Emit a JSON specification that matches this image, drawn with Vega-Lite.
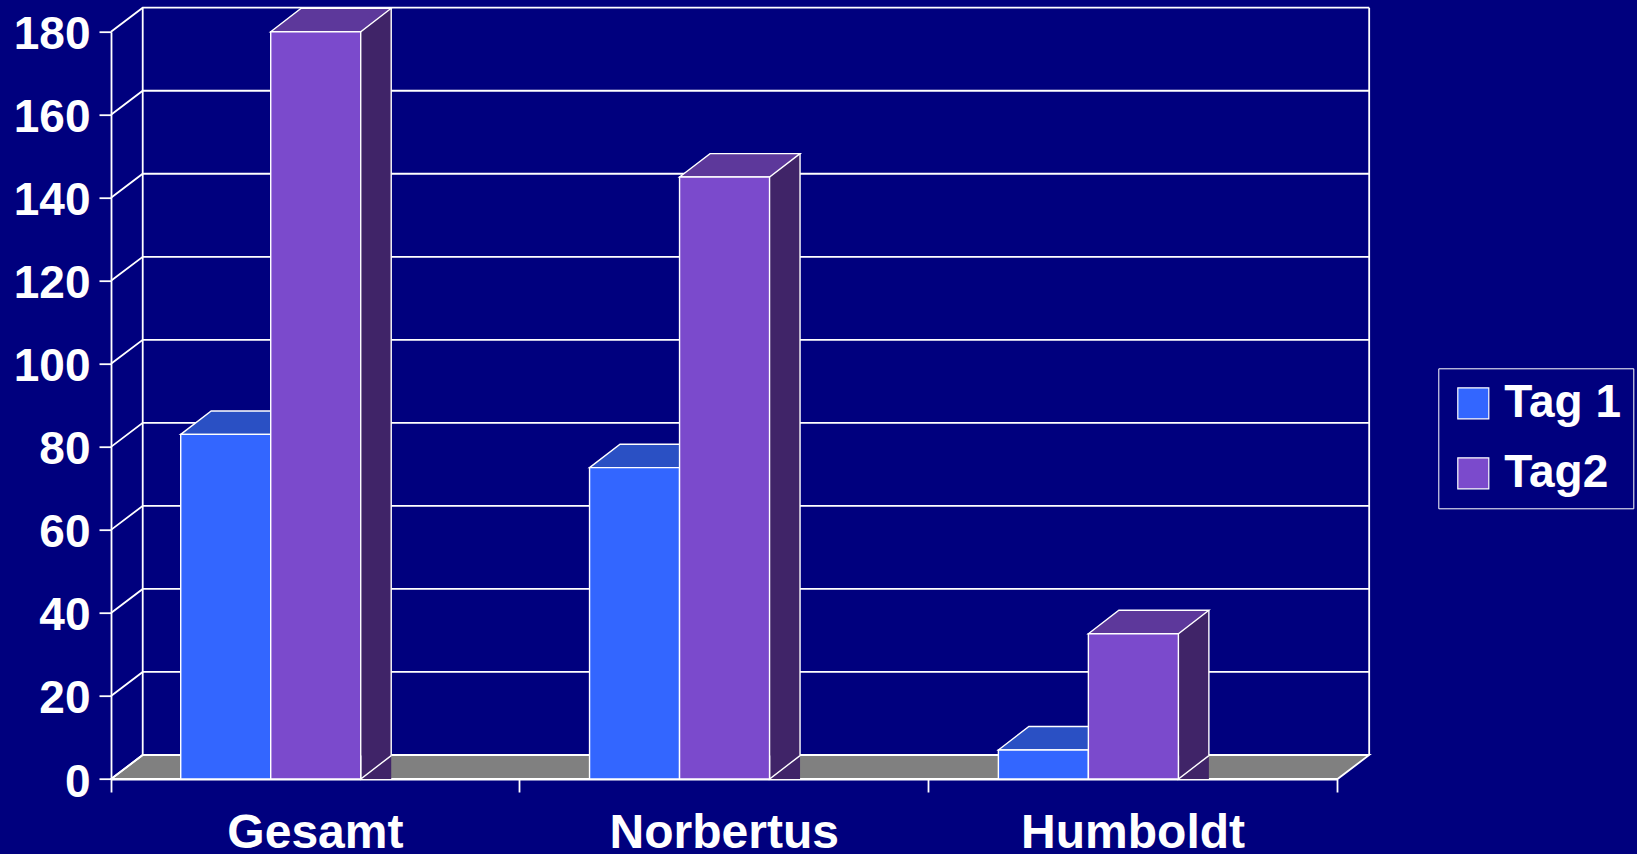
{
  "$schema": "https://vega.github.io/schema/vega-lite/v6.json",
  "width": 1226.5,
  "height": 747.3,
  "autosize": {"type": "none"},
  "padding": {"left": 111, "top": 31.7, "right": 299.5, "bottom": 75},
  "background": "#00007e",
  "config": {
    "view": {"stroke": null},
    "axisY": {"domainColor": "#ffffff", "domainWidth": 1.8, "tickColor": "#ffffff", "tickWidth": 1.8, "tickSize": 12, "labelColor": "#ffffff", "labelFont": "Liberation Sans", "labelFontWeight": "bold", "labelFontSize": 46, "labelPadding": 9, "labelOffset": 3, "grid": false},
    "axisX": {"domainColor": "#ffffff", "domainWidth": 1.8, "tickColor": "#ffffff", "tickWidth": 1.8, "tickSize": 13, "labelColor": "#ffffff", "labelFont": "Liberation Sans", "labelFontWeight": "bold", "labelFontSize": 48, "labelPadding": 17, "labelAngle": 0, "labelLimit": 0, "grid": false}
  },
  "datasets": {
    "bars": [
      {"cat": "Gesamt", "series": "Tag 1", "value": 83},
      {"cat": "Gesamt", "series": "Tag2", "value": 180},
      {"cat": "Norbertus", "series": "Tag 1", "value": 75},
      {"cat": "Norbertus", "series": "Tag2", "value": 145},
      {"cat": "Humboldt", "series": "Tag 1", "value": 7},
      {"cat": "Humboldt", "series": "Tag2", "value": 35}
    ],
    "ticks": [{"v": 0}, {"v": 20}, {"v": 40}, {"v": 60}, {"v": 80}, {"v": 100}, {"v": 120}, {"v": 140}, {"v": 160}, {"v": 180}],
    "one": [{"k": "frame"}]
  },
  "layer": [
    {
      "data": {"name": "one"},
      "mark": {"type": "point", "shape": "M -204.4 0 L 1022.1 0 L 1053.8 -24 L -172.7 -24 Z", "size": 4, "filled": true, "fill": "#808080", "stroke": "#ffffff", "strokeWidth": 1.8, "opacity": 1},
      "encoding": {
        "x": {"datum": "Gesamt", "type": "nominal", "title": null},
        "y": {"datum": 0, "type": "quantitative", "title": null}
      }
    },
    {
      "data": {"name": "ticks"},
      "mark": {"type": "point", "shape": "M -204.4 0 L -172.7 -24 L 1053.8 -24", "size": 4, "filled": false, "stroke": "#ffffff", "strokeWidth": 1.8, "opacity": 1},
      "encoding": {
        "x": {"datum": "Gesamt", "type": "nominal", "title": null},
        "y": {"field": "v", "type": "quantitative", "title": null}
      }
    },
    {
      "data": {"name": "one"},
      "mark": {"type": "rule", "color": "#ffffff", "strokeWidth": 1.8, "xOffset": -172.7, "yOffset": -24, "y2Offset": -24},
      "encoding": {
        "x": {"datum": "Gesamt", "type": "nominal", "title": null},
        "y": {"datum": 0, "type": "quantitative", "title": null},
        "y2": {"datum": 180}
      }
    },
    {
      "data": {"name": "one"},
      "mark": {"type": "rule", "color": "#ffffff", "strokeWidth": 1.8, "xOffset": 236.1, "yOffset": -24, "y2Offset": -24},
      "encoding": {
        "x": {"datum": "Humboldt", "type": "nominal", "title": null},
        "y": {"datum": 0, "type": "quantitative", "title": null},
        "y2": {"datum": 180}
      }
    },
    {
      "data": {"name": "bars"},
      "transform": [{"filter": "datum.series === 'Tag 1'"}],
      "mark": {"type": "point", "shape": "M -45 0 L 45 0 L 75.5 -23.4 L -14.5 -23.4 Z", "size": 4, "filled": true, "fill": "#2a50c4", "stroke": "#ffffff", "strokeWidth": 1.4, "opacity": 1, "xOffset": -89.7},
      "encoding": {
        "x": {"field": "cat", "type": "nominal", "title": null},
        "y": {"field": "value", "type": "quantitative", "title": null}
      }
    },
    {
      "data": {"name": "bars"},
      "transform": [{"filter": "datum.series === 'Tag 1'"}],
      "mark": {"type": "bar", "width": 90, "xOffset": -89.7, "stroke": "#ffffff", "strokeWidth": 1.4, "opacity": 1},
      "encoding": {
        "x": {"field": "cat", "type": "nominal", "title": null, "sort": null, "scale": {"domain": ["Gesamt", "Norbertus", "Humboldt"], "paddingInner": 0, "paddingOuter": 0}, "axis": {"bandPosition": 1, "tickExtra": true}},
        "y": {"field": "value", "type": "quantitative", "stack": null, "title": null, "scale": {"domain": [0, 180], "nice": false}, "axis": {"values": [0, 20, 40, 60, 80, 100, 120, 140, 160, 180]}},
        "color": {"field": "series", "type": "nominal", "scale": {"domain": ["Tag 1", "Tag2"], "range": ["#3366ff", "#7b4acc"]}, "legend": {"title": null, "orient": "none", "legendX": 1327.3, "legendY": 336.6, "symbolType": "square", "symbolSize": 961, "symbolStrokeColor": "#ffffff", "symbolStrokeWidth": 1.2, "symbolOpacity": 1, "labelFont": "Liberation Sans", "labelFontSize": 46, "labelFontWeight": "bold", "labelColor": "#ffffff", "labelOffset": 8, "rowPadding": 24, "padding": 12, "strokeColor": "#ffffff"}}
      }
    },
    {
      "data": {"name": "bars"},
      "transform": [{"filter": "datum.series === 'Tag2'"}],
      "mark": {"type": "bar", "width": 90, "xOffset": 30.8, "yOffset": -23.4, "y2Offset": -23.4, "color": "#402468", "strokeWidth": 0, "opacity": 1},
      "encoding": {
        "x": {"field": "cat", "type": "nominal", "title": null},
        "y": {"field": "value", "type": "quantitative", "stack": null, "title": null}
      }
    },
    {
      "data": {"name": "bars"},
      "transform": [{"filter": "datum.series === 'Tag2'"}],
      "mark": {"type": "point", "shape": "M 45 -23.4 L 45 0 L 75.5 -23.4", "size": 4, "filled": true, "fill": "#402468", "stroke": "#ffffff", "strokeWidth": 1.4, "opacity": 1, "xOffset": 0.3},
      "encoding": {
        "x": {"field": "cat", "type": "nominal", "title": null},
        "y": {"datum": 0, "type": "quantitative", "title": null}
      }
    },
    {
      "data": {"name": "bars"},
      "transform": [{"filter": "datum.series === 'Tag2'"}],
      "mark": {"type": "rule", "color": "#ffffff", "strokeWidth": 1.4, "xOffset": 75.8, "yOffset": -23.4, "y2Offset": -23.4},
      "encoding": {
        "x": {"field": "cat", "type": "nominal", "title": null},
        "y": {"field": "value", "type": "quantitative", "title": null},
        "y2": {"datum": 0}
      }
    },
    {
      "data": {"name": "bars"},
      "transform": [{"filter": "datum.series === 'Tag2'"}],
      "mark": {"type": "point", "shape": "M -45 0 L 45 0 L 75.5 -23.4 L -14.5 -23.4 Z", "size": 4, "filled": true, "fill": "#5d389b", "stroke": "#ffffff", "strokeWidth": 1.4, "opacity": 1, "xOffset": 0.3},
      "encoding": {
        "x": {"field": "cat", "type": "nominal", "title": null},
        "y": {"field": "value", "type": "quantitative", "title": null}
      }
    },
    {
      "data": {"name": "bars"},
      "transform": [{"filter": "datum.series === 'Tag2'"}],
      "mark": {"type": "bar", "width": 90, "xOffset": 0.3, "stroke": "#ffffff", "strokeWidth": 1.4, "opacity": 1},
      "encoding": {
        "x": {"field": "cat", "type": "nominal", "title": null},
        "y": {"field": "value", "type": "quantitative", "stack": null, "title": null},
        "color": {"field": "series", "type": "nominal", "scale": {"domain": ["Tag 1", "Tag2"], "range": ["#3366ff", "#7b4acc"]}, "legend": {"title": null, "orient": "none", "legendX": 1327.3, "legendY": 336.6, "symbolType": "square", "symbolSize": 961, "symbolStrokeColor": "#ffffff", "symbolStrokeWidth": 1.2, "symbolOpacity": 1, "labelFont": "Liberation Sans", "labelFontSize": 46, "labelFontWeight": "bold", "labelColor": "#ffffff", "labelOffset": 8, "rowPadding": 24, "padding": 12, "strokeColor": "#ffffff"}}
      }
    }
  ]
}
